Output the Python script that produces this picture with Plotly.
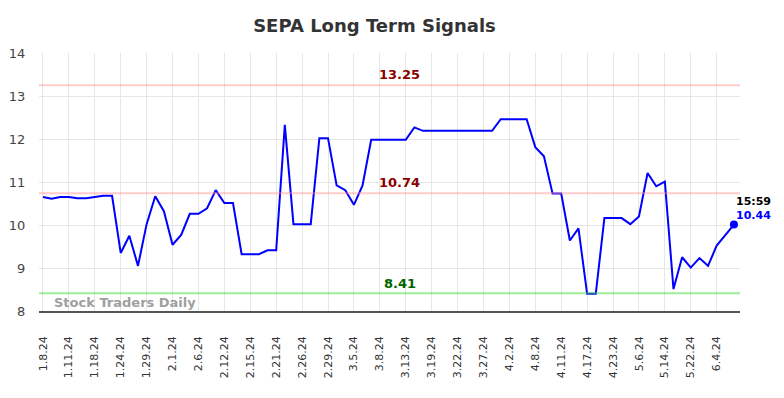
import plotly.graph_objects as go

tick_labels = ["1.8.24", "1.11.24", "1.18.24", "1.24.24", "1.29.24", "2.1.24", "2.6.24",
               "2.12.24", "2.15.24", "2.21.24", "2.26.24", "2.29.24", "3.5.24", "3.8.24",
               "3.13.24", "3.19.24", "3.22.24", "3.27.24", "4.2.24", "4.8.24", "4.11.24",
               "4.17.24", "4.23.24", "5.6.24", "5.14.24", "5.22.24", "6.4.24"]

values = [10.65, 10.61, 10.65, 10.65, 10.62, 10.62, 10.65, 10.68, 10.68, 9.35,
          9.75, 9.05, 10.02, 10.67, 10.32, 9.54, 9.77, 10.26, 10.26, 10.39,
          10.81, 10.51, 10.51, 9.32, 9.32, 9.32, 9.41, 9.41, 12.33, 10.02,
          10.02, 10.02, 12.02, 12.02, 10.92, 10.81, 10.47, 10.92, 11.98, 11.98,
          11.98, 11.98, 11.98, 12.27, 12.19, 12.19, 12.19, 12.19, 12.19, 12.19,
          12.19, 12.19, 12.19, 12.46, 12.46, 12.46, 12.46, 11.81, 11.60, 10.73,
          10.73, 9.64, 9.92, 8.40, 8.40, 10.16, 10.16, 10.16, 10.02, 10.20,
          11.21, 10.90, 11.01, 8.51, 9.25, 9.01, 9.23, 9.05, 9.52, 9.77,
          10.01]

resistance_high = 13.25
resistance_mid = 10.74
support = 8.41
last_time = "15:59"
last_label = "10.44"
points_per_tick = 3

x = list(range(len(values)))
tickvals = [i * points_per_tick for i in range(len(tick_labels))]

fig = go.Figure()

fig.add_trace(go.Scatter(x=x, y=values, mode="lines",
                         line=dict(color="#0000ff", width=2), hoverinfo="skip",
                         showlegend=False))
fig.add_trace(go.Scatter(x=[x[-1]], y=[values[-1]], mode="markers",
                         marker=dict(color="#0000ff", size=8), showlegend=False))

for lvl, col in [(resistance_high, "rgba(255,140,140,0.45)"),
                 (resistance_mid, "rgba(255,140,140,0.45)"),
                 (support, "rgba(60,220,60,0.5)")]:
    fig.add_shape(type="line", xref="paper", x0=0, x1=1, yref="y", y0=lvl, y1=lvl,
                  line=dict(color=col, width=2), layer="above")

label_x = 41.3
fig.add_annotation(x=label_x, y=resistance_high, text=f"<b>{resistance_high:.2f}</b>",
                   showarrow=False, yanchor="bottom", yshift=1,
                   font=dict(color="#8b0000", size=13, family="DejaVu Sans"))
fig.add_annotation(x=label_x, y=resistance_mid, text=f"<b>{resistance_mid:.2f}</b>",
                   showarrow=False, yanchor="bottom", yshift=1,
                   font=dict(color="#8b0000", size=13, family="DejaVu Sans"))
fig.add_annotation(x=label_x, y=support, text=f"<b>{support:.2f}</b>",
                   showarrow=False, yanchor="bottom", yshift=0,
                   font=dict(color="#006400", size=13, family="DejaVu Sans"))

fig.add_annotation(x=x[-1], y=values[-1], text=f"<b>{last_time}</b>", showarrow=False,
                   xanchor="left", yanchor="bottom", xshift=0, yshift=15,
                   font=dict(color="#000000", size=11, family="DejaVu Sans"))
fig.add_annotation(x=x[-1], y=values[-1], text=f"<b>{last_label}</b>", showarrow=False,
                   xanchor="left", yanchor="bottom", xshift=0, yshift=1,
                   font=dict(color="#0000ff", size=11, family="DejaVu Sans"))

fig.add_annotation(xref="paper", yref="paper", x=0.018, y=0.0, text="<b>Stock Traders Daily</b>",
                   showarrow=False, xanchor="left", yanchor="bottom", yshift=-1,
                   font=dict(color="#a0a0a0", size=13, family="DejaVu Sans"))

fig.update_layout(
    width=776, height=390,
    margin=dict(l=31, r=44, t=45, b=87),
    paper_bgcolor="white", plot_bgcolor="white",
    title=dict(text="<b>SEPA Long Term Signals</b>", x=366.5 / 776, xanchor="center",
               xref="container", y=1 - 18 / 390, yanchor="middle", yref="container",
               font=dict(size=18, color="#333333", family="DejaVu Sans")),
    xaxis=dict(range=[-0.46, 80.7], tickvals=tickvals, ticktext=tick_labels,
               tickangle=-90, showgrid=True, gridcolor="#e6e6e6", gridwidth=1,
               zeroline=False, showline=True, linecolor="#555555", linewidth=1.5,
               ticks="outside", ticklen=19, tickcolor="rgba(0,0,0,0)", automargin=False,
               tickfont=dict(size=11, color="#333333", family="DejaVu Sans")),
    yaxis=dict(range=[8, 14], tickvals=[8, 9, 10, 11, 12, 13, 14], showgrid=True,
               gridcolor="#e6e6e6", gridwidth=1, zeroline=False, automargin=False,
               ticks="outside", ticklen=10, tickcolor="rgba(0,0,0,0)",
               tickfont=dict(size=13, color="#444444", family="DejaVu Sans")),
)

fig.write_html("out.html")
